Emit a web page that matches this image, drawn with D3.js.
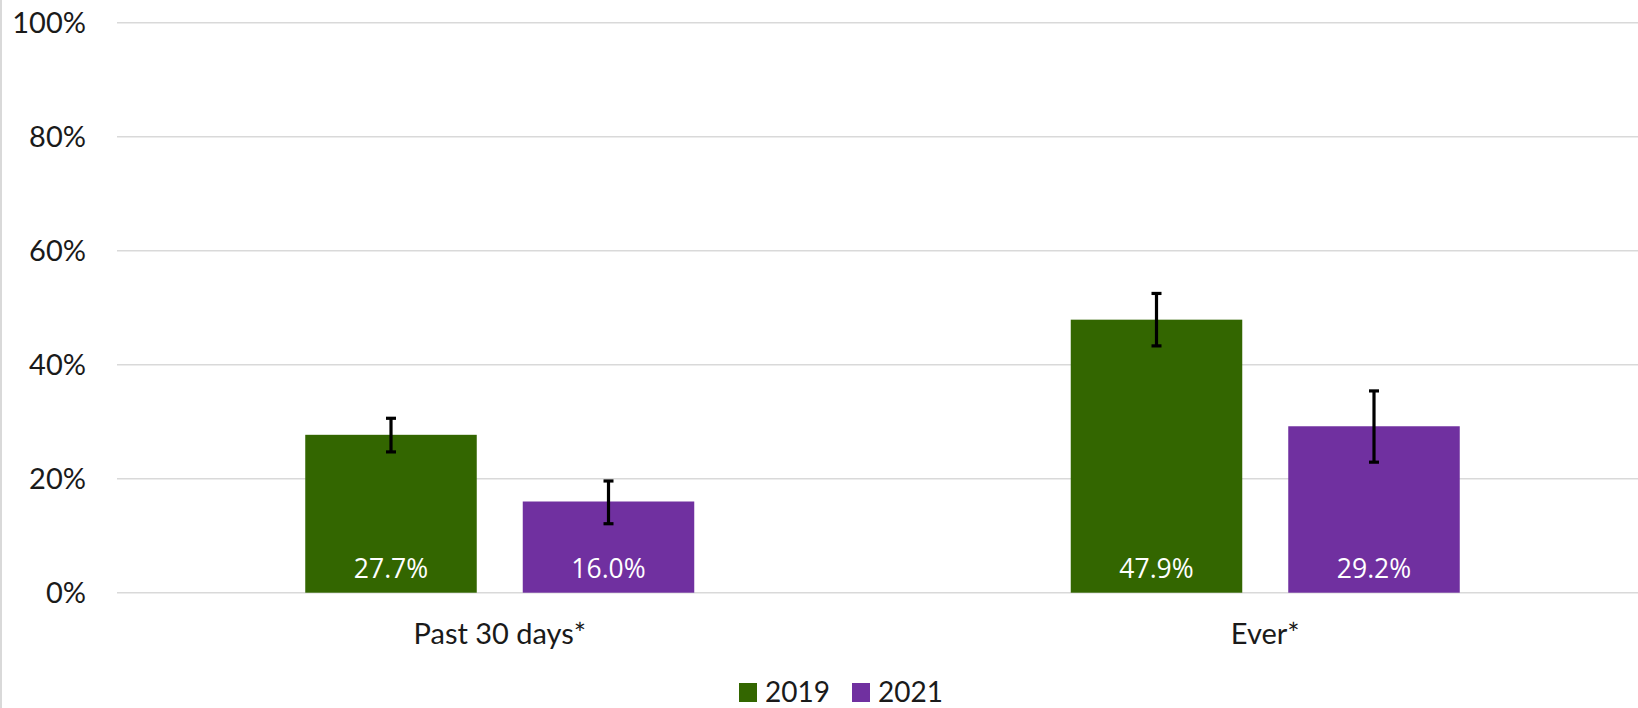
<!DOCTYPE html>
<html><head><meta charset="utf-8">
<script src="https://cdn.jsdelivr.net/npm/d3@7"></script>
<style>html,body{margin:0;padding:0;background:#fff;overflow:hidden}</style>
</head><body>
<svg id="chart" width="1638" height="708"></svg>
<script>
const categories = ["Past 30 days*", "Ever*"];
const seriesNames = ["2019", "2021"];
const colors = ["#336600", "#7030A0"];
const values2019 = [27.7, 47.9];
const values2021 = [16.0, 29.2];
const low2019 = [24.7, 43.3];
const high2019 = [30.6, 52.5];
const low2021 = [12.1, 22.9];
const high2021 = [19.6, 35.4];
const yTicks = [0, 20, 40, 60, 80, 100];

(function() {
const series = [
  {name: seriesNames[0], color: colors[0], values: values2019, low: low2019, high: high2019},
  {name: seriesNames[1], color: colors[1], values: values2021, low: low2021, high: high2021}
];

const svg = d3.select("#chart");
const W = 1638, H = 708;
const mLeft = 117, mRight = 1648, mTop = 22.7, mBottom = 592.7;
const axisFont = "Lato, 'Liberation Sans', sans-serif";
const labelFont = "'Open Sans', sans-serif";

svg.append("line").attr("x1", 1).attr("x2", 1).attr("y1", 0).attr("y2", H)
  .attr("stroke", "#d9d9d9").attr("stroke-width", 2);

const y = d3.scaleLinear().domain([0, 100]).range([mBottom, mTop]);
const x0 = d3.scaleBand().domain(categories).range([mLeft, mRight]).paddingInner(0).paddingOuter(0);
const x1 = d3.scaleBand().domain(seriesNames).range([0, x0.bandwidth()]).paddingInner(0.2115).paddingOuter(0.8655);

svg.append("g").selectAll("line").data(yTicks).join("line")
  .attr("x1", mLeft).attr("x2", W)
  .attr("y1", d => y(d)).attr("y2", d => y(d))
  .attr("stroke", "#d9d9d9").attr("stroke-width", 1.5);

svg.append("g").selectAll("text").data(yTicks).join("text")
  .attr("x", 86).attr("y", d => y(d)).attr("dy", "0.36em")
  .attr("text-anchor", "end")
  .attr("font-family", axisFont).attr("font-size", 29).attr("fill", "#1a1a1a")
  .text(d => d + "%");

const groups = svg.append("g").selectAll("g").data(series).join("g");
groups.each(function(s) {
  const g = d3.select(this);
  categories.forEach((c, i) => {
    const bx = x0(c) + x1(s.name);
    const bw = x1.bandwidth();
    g.append("rect").attr("x", bx).attr("y", y(s.values[i]))
      .attr("width", bw).attr("height", y(0) - y(s.values[i]))
      .attr("fill", s.color);
    g.append("text").attr("x", bx + bw / 2).attr("y", y(0) - 15)
      .attr("text-anchor", "middle")
      .attr("font-family", labelFont).attr("font-size", 26.5).attr("fill", "#fff")
      .text(s.values[i].toFixed(1) + "%");
    const cx = bx + bw / 2;
    g.append("line").attr("x1", cx).attr("x2", cx)
      .attr("y1", y(s.high[i])).attr("y2", y(s.low[i]))
      .attr("stroke", "#000").attr("stroke-width", 3.2);
    [s.high[i], s.low[i]].forEach(v => {
      g.append("line").attr("x1", cx - 5).attr("x2", cx + 5)
        .attr("y1", y(v)).attr("y2", y(v))
        .attr("stroke", "#000").attr("stroke-width", 3.2);
    });
  });
});

svg.append("g").selectAll("text").data(categories).join("text")
  .attr("x", d => x0(d) + x0.bandwidth() / 2).attr("y", 644)
  .attr("text-anchor", "middle")
  .attr("font-family", axisFont).attr("font-size", 29).attr("fill", "#1a1a1a")
  .text(d => d);

const legendX = [739, 852];
const leg = svg.append("g").selectAll("g").data(series).join("g")
  .attr("transform", (d, i) => `translate(${legendX[i]},0)`);
leg.append("rect").attr("x", 0).attr("y", 683).attr("width", 18).attr("height", 19)
  .attr("fill", d => d.color);
leg.append("text").attr("x", 26).attr("y", 702)
  .attr("font-family", axisFont).attr("font-size", 28).attr("fill", "#1a1a1a")
  .text(d => d.name);
})();
</script>
</body></html>
